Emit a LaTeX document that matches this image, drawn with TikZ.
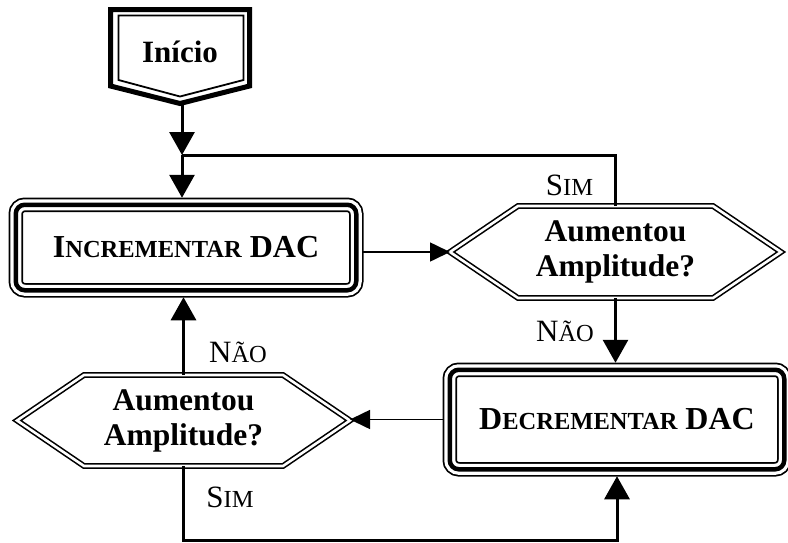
\documentclass[tikz,border=0pt]{standalone}
\usepackage{fontspec}
\setmainfont{Liberation Serif}
\usetikzlibrary{arrows.meta,positioning}

% word-style small capitals: big first letter, smaller rest
\newcommand{\fsc}[2]{#1{\fontsize{24.5}{28}\selectfont #2}}

\begin{document}
\begin{tikzpicture}[
  x=1pt, y=-1pt,
  framebox/.style={rectangle, rounded corners=9pt, draw, line width=4.5pt, outer sep=7pt,
    preaction={draw, line width=14.5pt}, preaction={draw=white, line width=11pt},
    font=\fontsize{32}{36}\selectfont\bfseries},
  hexbox/.style={rectangle, outer sep=0pt, inner sep=0pt, align=center,
    font=\fontsize{31.5}{35}\selectfont\bfseries},
  hexline/.style={draw, line width=1.6pt, double=white, double distance=2.6pt, line join=miter},
  answer/.style={anchor=base, font=\fontsize{31}{35}\selectfont},
  link/.style={line width=3pt},
  linkarrow/.style={line width=3pt, -{Triangle[length=23pt,width=25pt]}},
  thinarrow/.style={line width=1.6pt, -{Triangle[length=20pt,width=19pt]}}
]
\useasboundingbox (0,0) rectangle (788,542);

% start
\node[font=\fontsize{31}{35}\selectfont\bfseries] (start) at (180,52) {Início};
\draw[line width=5pt, line join=miter] (110.5,9.5) -- (249.5,9.5) -- (249.5,86) -- (180,103.5) -- (110.5,86) -- cycle;
\draw[line width=1.8pt] (118.5,15.5) -- (243.5,15.5) -- (243.5,80) -- (180,96.5) -- (118.5,80) -- cycle;
\coordinate (starttip) at (182,105);
\coordinate (join) at (182,155);

% boxes
\node[framebox, minimum width=340.5pt, minimum height=85.5pt] (inc) at (186,247.5) {\fsc{I}{NCREMENTAR} DAC};
\node[framebox, minimum width=334.5pt, minimum height=99.5pt] (dec) at (617,419.5) {\fsc{D}{ECREMENTAR} DAC};

% decisions
\node[hexbox, minimum width=331pt, minimum height=92pt] (q1) at (615.5,252) {Aumentou\\Amplitude?};
\draw[hexline] (q1.west) -- ([xshift=68pt]q1.north west) -- ([xshift=-68pt]q1.north east) -- (q1.east)
  -- ([xshift=-68pt]q1.south east) -- ([xshift=68pt]q1.south west) -- cycle;
\node[hexbox, minimum width=333pt, minimum height=91pt] (q2) at (183.5,420.5) {Aumentou\\Amplitude?};
\draw[hexline] (q2.west) -- ([xshift=67pt]q2.north west) -- ([xshift=-67pt]q2.north east) -- (q2.east)
  -- ([xshift=-67pt]q2.south east) -- ([xshift=67pt]q2.south west) -- cycle;

% connectors
\draw[linkarrow] (starttip) -- (join);
\draw[link] (q1.north) |- (join);
\draw[linkarrow] (join) -- (join |- inc.north);
\draw[thinarrow] (inc.east |- q1.west) -- (q1.west);
\draw[linkarrow] (q1.south) -- (q1.south |- dec.north);
\draw[thinarrow] (dec.west) -- (dec.west -| q2.east);
\draw[linkarrow] (q2.north) -- (q2.north |- inc.south);
\draw[linkarrow] (q2.south) -- ++(0,74) -| (dec.south);

% answers
\node[answer] (yes1) at (569.5,195) {\fsc{S}{IM}};
\node[answer] (no1) at (565,341) {\fsc{N}{ÃO}};
\node[answer] (no2) at (238,362) {\fsc{N}{ÃO}};
\node[answer] (yes2) at (230,507) {\fsc{S}{IM}};

\end{tikzpicture}
\end{document}
